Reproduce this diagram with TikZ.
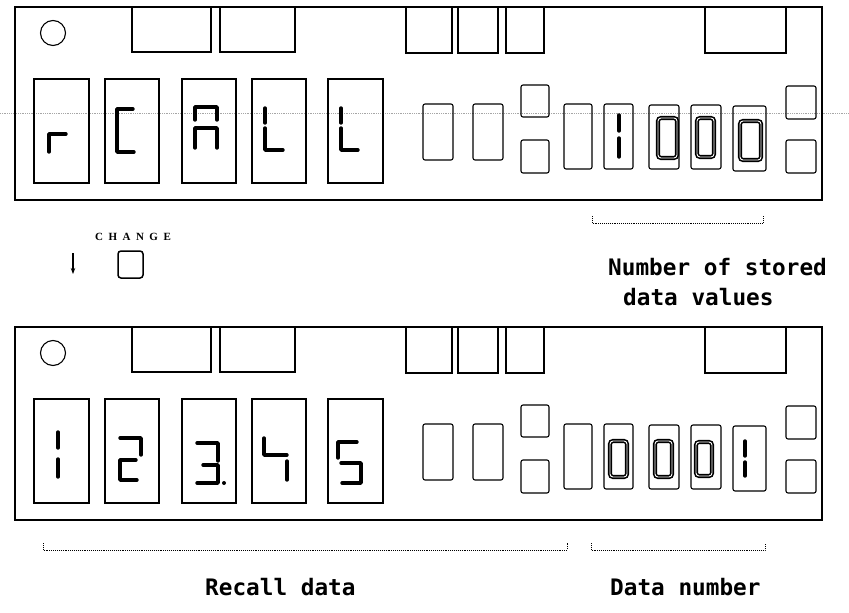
\documentclass[tikz,border=0pt]{standalone}
\usepackage{fontspec}
\usetikzlibrary{arrows.meta}
\newfontfamily\labfont{DejaVu Sans Mono}
\newfontfamily\chfont[LetterSpace=50]{Liberation Serif}
\begin{document}
\begin{tikzpicture}[x=1pt,y=-1pt,
  panel/.style={draw, line width=1.4},
  box/.style={draw, line width=1.1},
  rbox/.style={draw, line width=1.1, rounded corners=2},
  seg/.style={line width=3.4, line cap=round, line join=round},
  zero/.style={draw, line width=1.6, double=white, double distance=0.9, rounded corners=3},
  lab/.style={font=\labfont\bfseries\fontsize{22.7}{26}\selectfont, inner sep=0},
  bracket/.style={densely dotted, line width=0.9}
]
\useasboundingbox (0,0) rectangle (849,613);
% guide line
\draw[gray!70, densely dotted, line width=0.8] (0,113) -- (849,113);
% two panels with the same layout
\foreach \dy in {0,320}{
\begin{scope}[shift={(0,\dy)}]
  \draw[panel] (15,7) rectangle (822,200);
  \draw[box] (53,33) circle[radius=12.5pt];
  \draw[box] (132,7) rectangle (211,52);
  \draw[box] (220,7) rectangle (295,52);
  \draw[box] (406,7) rectangle (452,53);
  \draw[box] (458,7) rectangle (498,53);
  \draw[box] (506,7) rectangle (544,53);
  \draw[box] (705,7) rectangle (786,53);
  \draw[box] (34,79) rectangle (89,183);
  \draw[box] (105,79) rectangle (159,183);
  \draw[box] (182,79) rectangle (236,183);
  \draw[box] (252,79) rectangle (306,183);
  \draw[box] (328,79) rectangle (383,183);
  \draw[rbox] (423,104) rectangle (453,160);
  \draw[rbox] (473,104) rectangle (503,160);
  \draw[rbox] (521,85) rectangle (549,117);
  \draw[rbox] (521,140) rectangle (549,173);
  \draw[rbox] (564,104) rectangle (592,169);
  \draw[rbox] (604,104) rectangle (633,169);
  \draw[rbox] (649,105) rectangle (679,169);
  \draw[rbox] (691,105) rectangle (721,169);
  \draw[rbox] (733,106) rectangle (766,171);
  \draw[rbox] (786,86) rectangle (816,119);
  \draw[rbox] (786,140) rectangle (816,173);
\end{scope}}
% ---- panel 1 digits: rCALL
\draw[seg] (49,152) -- (49,134) -- (66,134);
\draw[seg] (133,109) -- (117,109) -- (117,152) -- (134,152);
\draw[seg] (195,120) -- (195,107) -- (217,107) -- (217,120);
\draw[seg] (195,148) -- (195,128) -- (217,128) -- (217,148);
\draw[seg] (265,108) -- (265,123);
\draw[seg] (265,128) -- (265,150) -- (283,150);
\draw[seg] (341,108) -- (341,123);
\draw[seg] (341,128) -- (341,150) -- (358,150);
% 1000
\draw[seg] (619,115) -- (619,131);
\draw[seg] (619,138) -- (619,157);
\draw[zero] (658,118) rectangle (677,158);
\draw[zero] (697,118) rectangle (714,157);
\draw[zero] (740,121) rectangle (761,160);
% ---- panel 2 digits: 123.45
\draw[seg] (58,432) -- (58,448);
\draw[seg] (58,459) -- (58,477);
\draw[seg] (120,438) -- (141,438) -- (141,455);
\draw[seg] (136,460) -- (120,460) -- (120,480) -- (137,480);
\draw[seg] (197,443) -- (218,443) -- (218,461);
\draw[seg] (203,465) -- (218,465) -- (218,483) -- (197,483);
\fill (224,483) circle[radius=2pt];
\draw[seg] (264,438) -- (264,455) -- (287,455);
\draw[seg] (287,461) -- (287,480);
\draw[seg] (357,442) -- (338,442) -- (338,458);
\draw[seg] (341,463) -- (361,463) -- (361,483) -- (342,483);
% 0001
\draw[zero] (610,441) rectangle (627,477);
\draw[zero] (655,441) rectangle (672,477);
\draw[zero] (696,442) rectangle (712,476);
\draw[seg] (745,441) -- (745,456);
\draw[seg] (745,462) -- (745,476);
% ---- CHANGE key
\node[font=\chfont\bfseries\fontsize{11}{12}\selectfont, inner sep=0] (chg) at (133,237) {CHANGE};
\draw[line width=1.5, rounded corners=3] (118,251) rectangle (143,278);
\coordinate (arrA) at (73,253);
\coordinate (arrB) at (73,274);
\draw[-{Stealth[length=6pt,width=4.5pt]}, line width=1.1] (arrA) -- (arrB);
% ---- brackets and labels
\draw[bracket] (592,216) -- (592,223) -- (763,223) -- (763,216);
\node[lab, anchor=base west] (nsd) at (608,275) {Number of stored};
\node[lab, anchor=base west] (dv) at (623,305) {data values};
\draw[bracket] (43,543) -- (43,550) -- (567,550) -- (567,543);
\draw[bracket] (591,543) -- (591,550) -- (765,550) -- (765,543);
\node[lab, anchor=base west] (rd) at (205,595) {Recall data};
\node[lab, anchor=base west] (dn) at (610,595) {Data number};
\end{tikzpicture}
\end{document}
